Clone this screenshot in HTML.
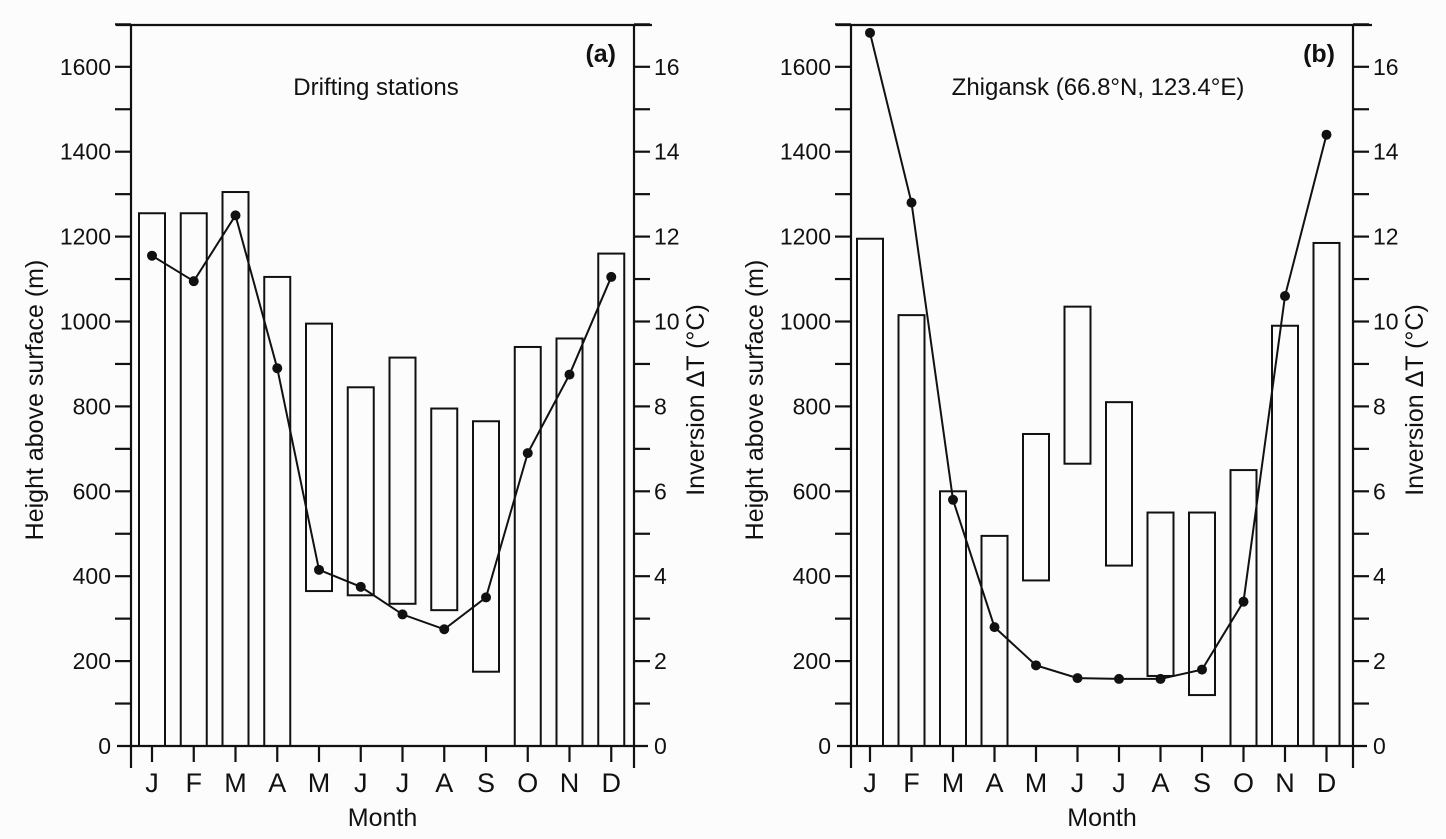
<!DOCTYPE html>
<html><head><meta charset="utf-8"><style>
body{margin:0;background:#fcfcfc;}
svg{display:block;font-family:"Liberation Sans",sans-serif;}
</style></head><body>
<svg id="chart" width="1446" height="839" viewBox="0 0 1446 839"></svg>
<script>
const months = ["J","F","M","A","M","J","J","A","S","O","N","D"];
const aBase = [0,0,0,0,365,355,335,320,175,0,0,0];
const aTop = [1255,1255,1305,1105,995,845,915,795,765,940,960,1160];
const aDT = [11.55,10.95,12.5,8.9,4.15,3.75,3.1,2.75,3.5,6.9,8.75,11.05];
const bBase = [0,0,0,0,390,665,425,165,120,0,0,0];
const bTop = [1195,1015,600,495,735,1035,810,550,550,650,990,1185];
const bDT = [16.8,12.8,5.8,2.8,1.9,1.6,1.58,1.58,1.8,3.4,10.6,14.4];
const leftTicks = [0,200,400,600,800,1000,1200,1400,1600];
const rightTicks = [0,2,4,6,8,10,12,14,16];

const NS="http://www.w3.org/2000/svg";
const svg=document.getElementById('chart');
function mk(tag,attrs,parent,text){const e=document.createElementNS(NS,tag);for(const k in attrs)e.setAttribute(k,attrs[k]);if(text!==undefined)e.textContent=text;(parent||svg).appendChild(e);return e;}

function panel(id,L,R,topL,topR,base,top,dt,label,title,titleX,x0,step){
  const g=mk('g',{});
  
  
  const y0=746, k=84.9/200;
  const y=v=>y0-v*k;
  const yr=v=>y0-v*100*k;
  const x=i=>x0+step*i;
  const st={stroke:'#111','stroke-width':2.2,fill:'none'};
  const fr=mk('line',Object.assign({x1:topL,y1:25,x2:topR,y2:25},st),g);
  
  const la=mk('line',Object.assign({x1:L,y1:25,x2:L,y2:768},st),g);
  
  const ra=mk('line',Object.assign({x1:R,y1:25,x2:R,y2:768},st),g);
  
  const xa=mk('line',Object.assign({x1:L-14,y1:y0,x2:R+14,y2:y0},st),g);
  
  for(let v=100;v<=1700;v+=100){
    mk('line',Object.assign({x1:L-16,y1:y(v),x2:L,y2:y(v)},st),g);
    mk('line',Object.assign({x1:R,y1:y(v),x2:R+16,y2:y(v)},st),g);
  }
  leftTicks.forEach(v=>{const t=mk('text',{x:L-20,y:y(v)+8,'text-anchor':'end','font-size':23,fill:'#111'},g,String(v));
    });
  rightTicks.forEach(v=>{const t=mk('text',{x:R+20,y:yr(v)+8,'font-size':23,fill:'#111'},g,String(v));
    });
  months.forEach((m,i)=>{
    mk('line',Object.assign({x1:x(i),y1:y0,x2:x(i),y2:y0+16},st),g);
    const t=mk('text',{x:x(i),y:y0+46,'text-anchor':'middle','font-size':27,fill:'#111'},g,m);
    
    const b=mk('rect',{x:x(i)-13,y:y(top[i]),width:26,height:y(base[i])-y(top[i]),fill:'none',stroke:'#111','stroke-width':2},g);
    
  });
  const pts=dt.map((v,i)=>x(i)+','+yr(v)).join(' ');
  const pl=mk('polyline',{points:pts,fill:'none',stroke:'#111','stroke-width':2},g);
  
  dt.forEach((v,i)=>{const c=mk('circle',{cx:x(i),cy:yr(v),r:5,fill:'#111'},g);
    });
  const xt=mk('text',{x:(L+R)/2,y:826,'text-anchor':'middle','font-size':25,fill:'#111'},g,'Month');
  
  const yl=mk('text',{x:0,y:0,'text-anchor':'middle','font-size':25,fill:'#111',transform:`translate(${L-88},400) rotate(-90)`},g,'Height above surface (m)');
  
  const yrr=mk('text',{x:0,y:0,'text-anchor':'middle','font-size':25,fill:'#111',transform:`translate(${R+70},400) rotate(-90)`},g,'Inversion ΔT (°C)');
  
  const pl2=mk('text',{x:R-18,y:62,'text-anchor':'end','font-size':25,'font-weight':'bold',fill:'#111'},g,label);
  
  const tt=mk('text',{x:titleX,y:95,'text-anchor':'middle','font-size':24,fill:'#111'},g,title);
  
}
panel('a',131,634,116,652,aBase,aTop,aDT,'(a)','Drifting stations',376,152,41.75);
panel('b',851,1353,836,1372,bBase,bTop,bDT,'(b)','Zhigansk (66.8°N, 123.4°E)',1098,870,41.5);
</script>
</body></html>
